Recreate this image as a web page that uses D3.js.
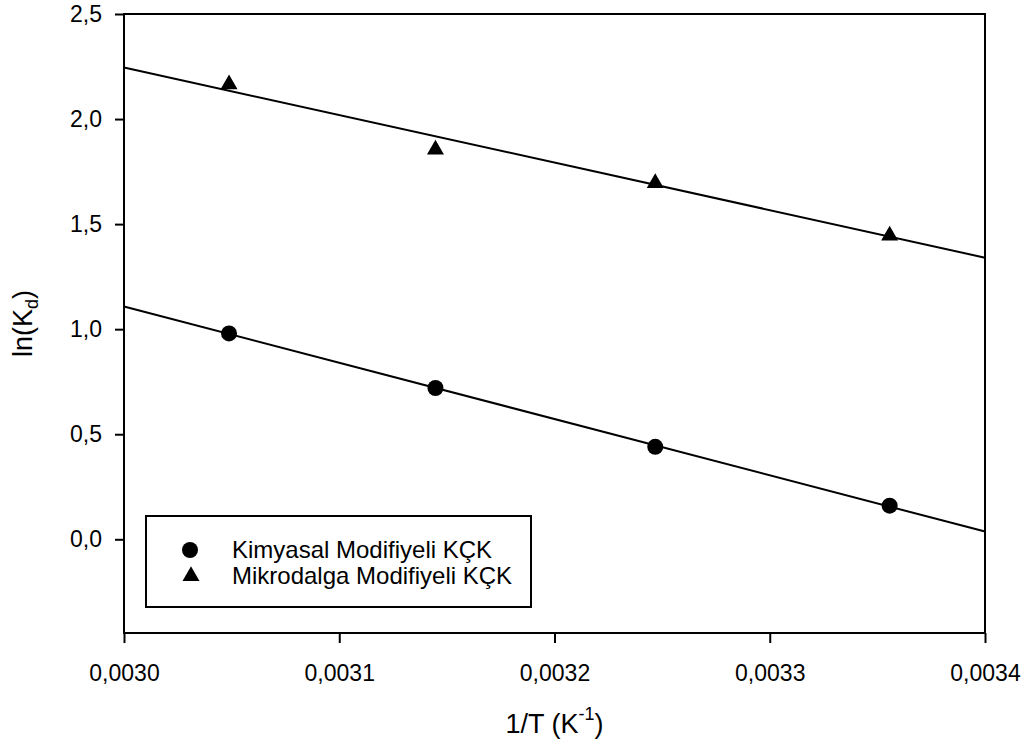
<!DOCTYPE html>
<html>
<head>
<meta charset="utf-8">
<script src="https://cdn.jsdelivr.net/npm/d3@7"></script>
<style>
  body { margin: 0; background: #fff; }
  text { font-family: Arial, "Liberation Sans", sans-serif; fill: #000; }
</style>
</head>
<body>
<svg id="chart" width="1025" height="744"></svg>
<script>
// ---- data ----
const invT = [0.0030488, 0.0031447, 0.0032468, 0.0033557];           // 1/T (K^-1)
const kimyasal = [0.98, 0.72, 0.44, 0.16];                             // ln(Kd) circles
const mikrodalga = [2.17, 1.86, 1.70, 1.45];                           // ln(Kd) triangles
const xTicks = [0.0030, 0.0031, 0.0032, 0.0033, 0.0034];
const yTicks = [0.0, 0.5, 1.0, 1.5, 2.0, 2.5];
const seriesNames = ["Kimyasal Modifiyeli KÇK", "Mikrodalga Modifiyeli KÇK"];
const xDomain = [0.0030, 0.0034];
const yDomain = [-0.446, 2.5];

(function () {
// ---- layout ----
const svg = d3.select("#chart");
const pL = 124, pR = 985, pT = 14, pB = 633;
const x = d3.scaleLinear().domain(xDomain).range([pL, pR]);
const y = d3.scaleLinear().domain(yDomain).range([pB, pT]);
const fmt = (d, n) => d.toFixed(n).replace(".", ",");

// frame
svg.append("rect").attr("x", pL).attr("y", pT)
  .attr("width", pR - pL).attr("height", pB - pT)
  .attr("fill", "none").attr("stroke", "#000").attr("stroke-width", 2);

// axes
const xAxis = d3.axisBottom(x).tickValues(xTicks).tickSize(10).tickPadding(22)
  .tickFormat(d => fmt(d, 4));
const gx = svg.append("g").attr("transform", `translate(0,${pB})`).call(xAxis);
gx.select(".domain").remove();
gx.selectAll("line").attr("stroke", "#000").attr("stroke-width", 2);
gx.selectAll("text").attr("font-size", 23).style("font-family", "Arial, 'Liberation Sans', sans-serif");

const yAxis = d3.axisLeft(y).tickValues(yTicks).tickSize(9).tickPadding(13)
  .tickFormat(d => fmt(d, 1));
const gy = svg.append("g").attr("transform", `translate(${pL},0)`).call(yAxis);
gy.select(".domain").remove();
gy.selectAll("line").attr("stroke", "#000").attr("stroke-width", 2);
gy.selectAll("text").attr("font-size", 23).style("font-family", "Arial, 'Liberation Sans', sans-serif");

// axis titles
const xt = svg.append("text").attr("x", (pL + pR) / 2).attr("y", 733)
  .attr("text-anchor", "middle").attr("font-size", 27);
xt.append("tspan").text("1/T (K");
xt.append("tspan").attr("font-size", 18).attr("dy", -13).text("-1");
xt.append("tspan").attr("dy", 13).text(")");

const yt = svg.append("text")
  .attr("transform", `translate(32,${(pT + pB) / 2}) rotate(-90)`)
  .attr("text-anchor", "middle").attr("font-size", 27);
yt.append("tspan").text("ln(K");
yt.append("tspan").attr("font-size", 18).attr("dy", 6).text("d");
yt.append("tspan").attr("dy", -6).text(")");

// regression lines (least squares)
function fit(xs, ys) {
  const mx = d3.mean(xs), my = d3.mean(ys);
  const sxy = d3.sum(xs, (v, i) => (v - mx) * (ys[i] - my));
  const sxx = d3.sum(xs, v => (v - mx) * (v - mx));
  const b = sxy / sxx, a = my - b * mx;
  return xv => a + b * xv;
}
const line = d3.line().x(d => x(d[0])).y(d => y(d[1]));
[kimyasal, mikrodalga].forEach(ys => {
  const f = fit(invT, ys);
  svg.append("path").datum(xDomain.map(v => [v, f(v)]))
    .attr("d", line).attr("fill", "none").attr("stroke", "#000").attr("stroke-width", 2);
});

// markers
const circ = d3.symbol().type(d3.symbolCircle).size(Math.PI * 8 * 8);
const tri = d3.symbol().type(d3.symbolTriangle).size(125);
svg.append("g").selectAll("path").data(invT.map((v, i) => [v, kimyasal[i]])).join("path")
  .attr("d", circ).attr("transform", d => `translate(${x(d[0])},${y(d[1])})`).attr("fill", "#000");
svg.append("g").selectAll("path").data(invT.map((v, i) => [v, mikrodalga[i]])).join("path")
  .attr("d", tri).attr("transform", d => `translate(${x(d[0])},${y(d[1]) + 1})`).attr("fill", "#000");

// legend
const lg = svg.append("g");
lg.append("rect").attr("x", 146).attr("y", 516).attr("width", 385).attr("height", 91)
  .attr("fill", "#fff").attr("stroke", "#000").attr("stroke-width", 2);
lg.append("path").attr("d", circ).attr("transform", "translate(190,550)").attr("fill", "#000");
lg.append("path").attr("d", tri).attr("transform", "translate(191,576)").attr("fill", "#000");
lg.append("text").attr("x", 232).attr("y", 558).attr("font-size", 24).text(seriesNames[0]);
lg.append("text").attr("x", 232).attr("y", 584).attr("font-size", 24).text(seriesNames[1]);
})();
</script>
</body>
</html>
